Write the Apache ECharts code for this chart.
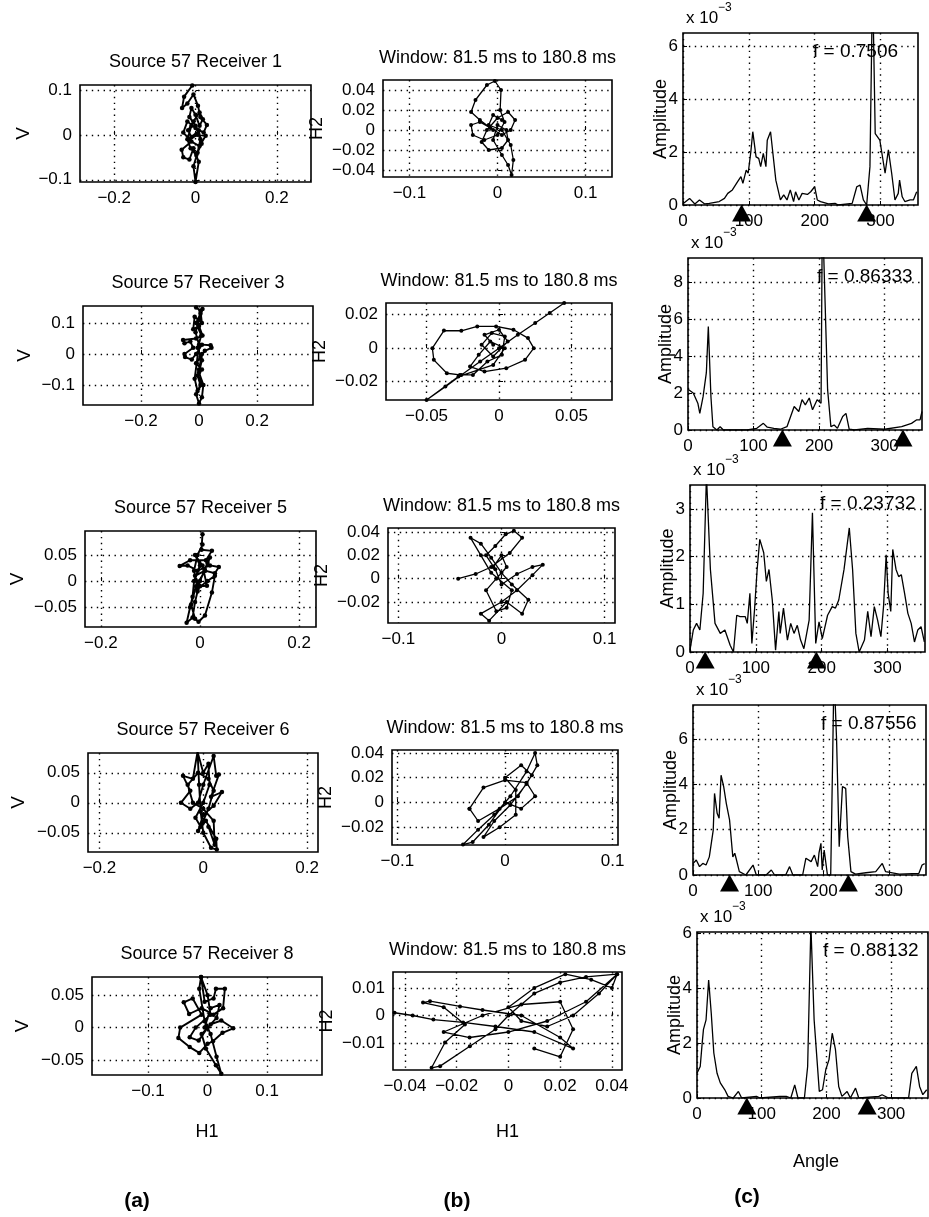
<!DOCTYPE html>
<html>
<head>
<meta charset="utf-8">
<script src="https://cdn.jsdelivr.net/npm/echarts@6/dist/echarts.min.js"></script>
<style>
html, body { margin: 0; padding: 0; background: #fff; }
#chart { width: 929px; height: 1217px; }
</style>
</head>
<body>
<div id="chart"></div>
<script>
// receiver number and picked frequency for each row
var receivers = [1, 3, 5, 6, 8];
var peakF = ['0.7506', '0.86333', '0.23732', '0.87556', '0.88132'];

// column (a): particle motion, V against H1
var vhPath1 = [[-0.008,0.11],[-0.028,0.085],[-0.033,0.06],[-0.02,0.07],[-0.005,0.09],[0.006,0.065],[0.012,0.04],[0.028,0.022],[0.02,0.005],[0.0,0.015],[-0.02,0.03],[-0.03,0.005],[-0.015,-0.01],[0.005,0.0],[0.025,-0.002],[0.01,-0.025],[-0.01,-0.015],[-0.034,-0.033],[-0.03,-0.05],[-0.015,-0.055],[-0.005,-0.03],[0.008,-0.06],[0.0,-0.105],[-0.005,-0.07],[0.005,-0.04],[0.012,-0.01],[0.0,0.02],[-0.015,0.04],[-0.01,0.06],[0.0,0.045],[0.01,0.02],[0.018,0.035],[0.01,0.05],[-0.005,0.03],[-0.018,0.01],[-0.01,-0.005],[0.008,0.01],[0.015,-0.02],[0.002,-0.045],[-0.012,-0.03],[-0.02,-0.01],[-0.01,0.02]];
var vhPath2 = [[-0.01,0.15],[0.005,0.14],[0.01,0.1],[-0.015,0.12],[-0.02,0.08],[0.0,0.09],[0.012,0.06],[-0.01,0.05],[-0.055,0.045],[-0.05,0.035],[-0.03,0.04],[-0.02,0.02],[-0.05,0.0],[-0.048,-0.01],[-0.025,-0.018],[-0.01,0.0],[0.01,0.03],[0.04,0.028],[0.043,0.02],[0.02,0.01],[0.005,-0.01],[-0.01,-0.03],[0.01,-0.05],[-0.005,-0.07],[0.005,-0.1],[-0.01,-0.13],[0.0,-0.16],[0.01,-0.14],[0.015,-0.1],[0.0,-0.06],[0.01,-0.02],[-0.005,0.02],[0.008,0.06],[-0.01,0.1],[0.005,0.13],[0.012,0.145],[0.0,0.11],[-0.012,0.07],[0.0,0.03],[-0.008,-0.03],[-0.015,-0.08],[-0.005,-0.12],[0.008,-0.1],[0.0,-0.05],[0.01,0.0]];
var vhPath3 = [[0.005,0.09],[0.003,0.06],[0.024,0.058],[0.012,0.04],[-0.02,0.04],[-0.041,0.029],[-0.025,0.03],[-0.005,0.02],[0.02,0.03],[0.038,0.027],[0.03,0.015],[0.01,0.02],[-0.01,0.01],[0.0,-0.01],[0.014,-0.009],[0.005,0.03],[-0.01,0.05],[0.0,0.03],[-0.012,0.0],[-0.015,-0.03],[-0.02,-0.05],[-0.027,-0.08],[-0.015,-0.07],[-0.01,-0.04],[-0.005,-0.02],[0.0,0.0],[0.015,0.035],[0.02,0.045],[0.01,0.02],[-0.008,-0.01],[-0.018,-0.045],[-0.01,-0.072],[-0.003,-0.078],[0.01,-0.066],[0.024,-0.022],[0.03,0.01],[0.015,0.0],[-0.005,-0.015],[-0.012,0.02],[-0.005,0.05],[0.005,0.07]];
var vhPath4 = [[-0.011,0.085],[-0.02,0.04],[-0.039,0.045],[-0.025,0.02],[-0.043,0.0],[-0.025,-0.01],[-0.01,0.0],[0.0,0.03],[0.02,0.078],[0.025,0.045],[0.03,0.047],[0.015,0.01],[0.036,0.018],[0.02,-0.005],[0.0,-0.02],[-0.01,-0.047],[0.005,-0.03],[0.025,-0.06],[0.026,-0.078],[0.015,-0.075],[0.0,-0.05],[-0.005,-0.015],[-0.008,0.03],[-0.011,0.085],[0.0,0.05],[0.01,0.065],[0.012,0.03],[0.0,0.0],[-0.015,-0.025],[-0.005,-0.04],[0.01,-0.01],[0.02,0.02],[0.01,0.04],[-0.01,0.05],[-0.03,0.03],[-0.02,0.0],[0.0,-0.01],[0.02,-0.03],[0.022,-0.07],[0.01,-0.04]];
var vhPath5 = [[-0.011,0.078],[-0.005,0.04],[0.01,0.045],[0.014,0.06],[0.029,0.06],[0.026,0.03],[0.01,0.02],[-0.01,0.03],[-0.031,0.021],[-0.04,0.039],[-0.025,0.045],[-0.01,0.02],[-0.046,0.0],[-0.049,-0.016],[-0.03,-0.03],[-0.014,-0.039],[0.0,-0.025],[0.009,-0.021],[0.025,-0.008],[0.043,-0.001],[0.023,0.011],[0.005,0.005],[-0.01,-0.01],[-0.003,-0.032],[0.014,-0.058],[0.023,-0.071],[0.015,-0.045],[0.005,-0.01],[-0.005,0.01],[-0.014,0.06],[-0.011,0.078],[0.0,0.05],[0.005,0.02],[-0.02,0.0],[-0.03,-0.015],[-0.015,-0.02],[0.0,0.0],[0.015,0.015],[0.02,0.035],[0.005,0.03],[-0.005,0.0]];

// column (b): particle motion, H2 against H1
var hhPath1 = [[-0.005,0.0],[-0.02,0.01],[-0.03,0.018],[-0.025,0.03],[-0.012,0.045],[-0.003,0.049],[0.004,0.04],[0.003,0.02],[0.008,0.008],[0.0,-0.005],[-0.015,-0.01],[-0.028,-0.005],[-0.03,0.005],[-0.02,0.008],[-0.008,0.002],[0.005,-0.005],[0.015,0.0],[0.02,0.01],[0.012,0.018],[0.0,0.012],[-0.012,0.0],[-0.018,-0.012],[-0.01,-0.02],[0.005,-0.018],[0.012,-0.01],[0.01,0.0],[0.0,0.005],[-0.005,-0.01],[0.005,-0.025],[0.012,-0.035],[0.016,-0.045],[0.018,-0.03],[0.015,-0.015],[0.005,0.0],[-0.01,0.005],[-0.005,0.015],[0.005,0.01]];
var hhPath2 = [[-0.004,0.002],[-0.01,0.008],[0.0,0.011],[0.006,0.004],[-0.004,-0.005],[-0.012,0.002],[-0.005,0.009],[0.004,0.007],[0.002,-0.004],[-0.008,-0.008],[-0.018,-0.016],[-0.027,-0.016],[-0.036,-0.015],[-0.045,-0.007],[-0.046,0.0],[-0.038,0.0105],[-0.026,0.0104],[-0.015,0.013],[-0.002,0.013],[0.01,0.011],[0.02,0.006],[0.024,0.0],[0.018,-0.007],[0.005,-0.012],[-0.01,-0.014],[-0.02,-0.011],[-0.014,-0.004],[-0.006,0.004],[0.004,0.0],[-0.004,-0.01],[-0.028,-0.017],[-0.05,-0.031],[-0.037,-0.023],[-0.026,-0.016],[-0.013,-0.008],[0.0,0.0],[0.013,0.008],[0.025,0.015],[0.035,0.021],[0.045,0.027]];
var hhPath3 = [[-0.042,0.0],[-0.025,0.004],[-0.01,0.01],[0.008,0.022],[0.02,0.035],[0.012,0.041],[0.004,0.038],[-0.006,0.028],[-0.015,0.02],[-0.006,0.008],[0.0,-0.005],[0.015,0.004],[0.03,0.01],[0.04,0.012],[0.03,0.003],[0.015,-0.01],[0.0,-0.02],[-0.02,-0.03],[-0.012,-0.036],[0.005,-0.02],[0.02,-0.03],[0.026,-0.018],[0.01,-0.005],[0.0,0.005],[-0.01,0.018],[-0.02,0.03],[-0.03,0.035],[-0.02,0.02],[-0.01,0.005],[0.01,-0.01],[0.005,-0.025],[-0.005,-0.028],[-0.015,-0.01],[-0.005,0.0],[0.005,0.01],[0.0,0.02],[-0.008,0.01]];
var hhPath4 = [[-0.033,-0.005],[-0.02,0.012],[0.0,0.018],[0.02,0.016],[0.028,0.005],[0.015,-0.005],[0.0,0.0],[-0.015,-0.018],[-0.03,-0.032],[-0.039,-0.034],[-0.025,-0.022],[-0.01,-0.01],[0.005,0.005],[0.02,0.025],[0.028,0.04],[0.03,0.03],[0.02,0.015],[0.005,-0.002],[-0.01,-0.015],[-0.02,-0.028],[-0.005,-0.02],[0.01,-0.01],[0.01,0.01],[0.0,0.02],[0.015,0.03],[0.025,0.022],[0.012,0.005],[-0.005,-0.005],[-0.025,-0.015],[-0.033,-0.005]];
var hhPath5 = [[-0.044,0.001],[-0.037,0.0],[-0.029,-0.0015],[-0.0175,-0.0025],[-0.005,-0.004],[0.01,-0.006],[0.025,-0.012],[0.02,-0.008],[0.005,0.0],[-0.01,0.002],[-0.0187,0.0033],[-0.0303,0.0052],[-0.033,0.0047],[-0.025,0.003],[-0.0168,-0.0033],[-0.0245,-0.0098],[-0.0297,-0.019],[-0.0264,-0.0184],[-0.0149,-0.0112],[-0.005,-0.005],[0.0,0.0],[0.01,0.008],[0.02,0.012],[0.03,0.014],[0.042,0.015],[0.035,0.008],[0.025,0.0],[0.015,-0.004],[0.005,-0.002],[0.0,0.003],[0.01,0.01],[0.022,0.015],[0.032,0.013],[0.04,0.01],[0.042,0.015],[0.03,0.005],[0.015,-0.002],[0.0,-0.006],[-0.015,-0.008],[-0.025,-0.006],[-0.01,0.0],[0.005,0.004],[0.02,0.005],[0.025,-0.005],[0.02,-0.015],[0.01,-0.012]];

// column (c): amplitude (x 10^-3) against angle in degrees
var amp1 = [[0,0.05],[10,0.25],[18,0.04],[25,0.19],[33,0.04],[40,0.06],[55,0.13],[63,0.25],[68,0.44],[75,0.57],[83,0.88],[88,1.07],[91,0.82],[96,1.32],[99,1.2],[103,2.0],[106,2.77],[111,1.82],[115,1.76],[118,1.45],[122,1.95],[126,1.45],[128,2.45],[133,2.77],[136,2.7],[141,0.94],[148,0.19],[153,0.38],[158,0.19],[163,0.57],[168,0.13],[171,0.5],[176,0.19],[181,0.44],[189,0.4],[194,0.5],[200,0.69],[204,0.19],[209,0.13],[221,0.04],[231,0.06],[236,0],[257,0.06],[264,0.69],[269,0.75],[274,0.19],[279,0],[284,1.45],[288,8.5],[292,2.7],[299,2.45],[307,1.2],[312,2.08],[317,1.2],[322,0.19],[327,0.44],[329,0.94],[333,0.31],[337,0.13],[345,0.19],[350,0.19],[355,0.5]];
var amp2 = [[0,2.2],[8,2.0],[15,1.45],[18,0.9],[23,1.8],[28,3.1],[31,5.6],[35,1.8],[38,0.18],[44,0],[49,0.18],[54,0],[90,0],[105,0.09],[115,0.36],[121,0.15],[131,0.09],[141,0.04],[151,0.18],[162,1.27],[169,1.0],[174,1.64],[179,1.36],[185,1.73],[190,1.09],[197,1.64],[203,1.45],[205,12],[213,2.18],[218,0.18],[223,0.27],[228,0.09],[236,0.73],[241,0.9],[246,0.04],[254,0],[274,0.09],[300,0.04],[326,0.18],[341,0.36],[349,0.55],[354,0.55],[357,1.0]];
var amp3 = [[0,0.04],[5,0.46],[10,0.6],[15,0.46],[20,1.23],[25,3.7],[31,1.73],[38,0.6],[46,0.39],[53,0.46],[61,0.14],[66,0],[71,0.77],[76,0.74],[84,0.74],[87,0.6],[91,1.23],[94,0.18],[98,0.88],[102,1.73],[106,2.36],[112,2.08],[116,1.48],[120,1.73],[125,1.09],[130,0.04],[135,0.85],[137,0.39],[142,0.92],[148,0.25],[153,0.6],[158,0.39],[163,0.56],[168,0.25],[173,0.07],[181,0.67],[186,2.92],[191,0.18],[196,0.63],[201,0.28],[209,0.77],[216,0.95],[221,0.92],[226,1.09],[234,1.73],[242,2.6],[247,1.73],[252,0.39],[257,0],[265,0.25],[270,0.85],[275,0.32],[280,0.95],[285,0.67],[290,0.32],[294,0.95],[298,2.04],[301,1.23],[305,0.85],[308,2.15],[313,1.73],[317,1.58],[321,1.62],[326,1.23],[331,0.81],[336,0.6],[341,0.21],[346,0.46],[351,0.53],[356,0.21]];
var amp4 = [[0,0.5],[5,0.66],[10,0.37],[15,0.51],[20,0.44],[25,0.8],[31,1.98],[33,3.6],[37,2.72],[40,2.5],[43,4.4],[47,3.9],[51,3.16],[56,2.43],[61,0.8],[64,0.96],[66,0.74],[71,0.15],[81,0],[92,0.44],[97,0],[112,0],[120,0.22],[125,0],[142,0],[148,0.37],[153,0],[168,0],[173,0.74],[181,0.59],[186,0.88],[191,0.37],[193,0.96],[196,1.4],[198,0.22],[201,1.1],[206,0],[211,0],[214,5.2],[216,9],[220,5.96],[224,1.25],[226,1.25],[229,3.9],[234,3.82],[237,1.7],[242,0.15],[249,0.04],[265,0.1],[280,0.15],[290,0.51],[295,0.15],[316,0.04],[346,0.07],[351,0.44],[355,0.5]];
var amp5 = [[0,0.9],[5,1.15],[8,2.0],[10,2.5],[14,2.85],[18,4.3],[22,3.1],[26,1.64],[31,0.9],[36,0.55],[43,0.3],[48,0.06],[56,0],[64,0.24],[69,0],[92,0.06],[97,0],[128,0.06],[138,0.06],[145,0],[151,0.48],[156,0],[166,0],[171,1.15],[176,6.3],[181,2.85],[189,0.24],[194,0.3],[199,1.03],[204,1.4],[209,2.36],[214,1.76],[219,0.42],[224,0.06],[232,0.24],[237,0],[245,0.36],[250,0],[281,0.06],[286,0.12],[296,0],[327,0],[332,0.9],[339,1.15],[344,0.42],[349,0.12],[355,0.3]];

// angles marked with triangles under each spectrum
var marks1 = [89, 279];
var marks2 = [144, 328];
var marks3 = [23, 192];
var marks4 = [56, 238];
var marks5 = [77, 263];

// axis limits and tick values
var aXRange = [[-0.284, 0.284], [-0.4, 0.393], [-0.232, 0.234], [-0.222, 0.221], [-0.194, 0.192]];
var aYRange = [[-0.105, 0.111], [-0.165, 0.155], [-0.088, 0.096], [-0.082, 0.083], [-0.073, 0.078]];
var aXTicks = [[-0.2, 0, 0.2], [-0.2, 0, 0.2], [-0.2, 0, 0.2], [-0.2, 0, 0.2], [-0.1, 0, 0.1]];
var aYTicks = [[-0.1, 0, 0.1], [-0.1, 0, 0.1], [-0.05, 0, 0.05], [-0.05, 0, 0.05], [-0.05, 0, 0.05]];
var bXRange = [[-0.13, 0.13], [-0.078, 0.078], [-0.11, 0.11], [-0.105, 0.105], [-0.0446, 0.0439]];
var bYRange = [[-0.047, 0.05], [-0.031, 0.027], [-0.038, 0.0434], [-0.0344, 0.0424], [-0.0198, 0.0158]];
var bXTicks = [[-0.1, 0, 0.1], [-0.05, 0, 0.05], [-0.1, 0, 0.1], [-0.1, 0, 0.1], [-0.04, -0.02, 0, 0.02, 0.04]];
var bYTicks = [[-0.04, -0.02, 0, 0.02, 0.04], [-0.02, 0, 0.02], [-0.02, 0, 0.02, 0.04], [-0.02, 0, 0.02, 0.04], [-0.01, 0, 0.01]];
var cXMax = 357;
var cYMax = [6.5, 9.3, 3.5, 7.5, 6.05];
var cXTicks = [0, 100, 200, 300];
var cYTicks = [[0, 2, 4, 6], [0, 2, 4, 6, 8], [0, 1, 2, 3], [0, 2, 4, 6], [0, 2, 4, 6]];

var vhPaths = [vhPath1, vhPath2, vhPath3, vhPath4, vhPath5];
var hhPaths = [hhPath1, hhPath2, hhPath3, hhPath4, hhPath5];
var amps = [amp1, amp2, amp3, amp4, amp5];
var marks = [marks1, marks2, marks3, marks4, marks5];

// plot boxes in px: left, top, width, height (the scan is a little skewed)
var boxA = [[80, 85, 231, 97], [83, 306, 230, 99], [85, 531, 231, 96], [88, 753, 230, 99], [92, 977, 230, 98]];
var boxB = [[383, 80, 229, 97], [386, 303, 226, 97], [388, 528, 227, 95], [392, 750, 226, 95], [393, 972, 229, 98]];
var boxC = [[683, 33, 235, 172], [688, 258, 234, 172], [690, 485, 235, 167], [693, 705, 233, 170], [697, 932, 231, 166]];
var vLabelX = [24, 25, 18, 19, 23];

var FONT = '"Liberation Sans", Arial, Helvetica, sans-serif';

function minusFmt(v) {
	return String(v).replace('-', '\u2212');
}

function makeGrid(b) {
	return {
		left: b[0], top: b[1], width: b[2], height: b[3],
		show: true, borderColor: '#000', borderWidth: 1.6, backgroundColor: '#fff'
	};
}

function makeAxis(gi, min, max, ticks, labelMargin) {
	return {
		type: 'value', gridIndex: gi, min: min, max: max, scale: true,
		axisLine: { show: false },
		axisTick: { show: true, inside: true, length: 4, customValues: ticks, lineStyle: { color: '#000', width: 1 } },
		axisLabel: { customValues: ticks, formatter: minusFmt, color: '#000', fontSize: 17, fontFamily: FONT, margin: labelMargin || 8 },
		splitLine: { show: true, lineStyle: { color: '#000', type: [1.4, 4.5], width: 1.4 } }
	};
}

function label(text, x, y, size, opts) {
	opts = opts || {};
	var align = opts.align || 'center';
	return {
		type: 'text', x: x, y: y, rotation: opts.rotate ? Math.PI / 2 : 0, silent: true, z: 100,
		style: {
			text: text, fill: '#000',
			font: (opts.bold ? 'bold ' : '') + size + 'px ' + FONT,
			align: align, verticalAlign: 'middle',
			textAlign: align, textVerticalAlign: 'middle'
		}
	};
}

var grids = [], xAxes = [], yAxes = [], series = [], texts = [];

for (var r = 0; r < 5; r++) {
	var ga = r * 3, gb = r * 3 + 1, gc = r * 3 + 2;
	var a = boxA[r], b = boxB[r], c = boxC[r];

	grids.push(makeGrid(a), makeGrid(b), makeGrid(c));

	xAxes.push(makeAxis(ga, aXRange[r][0], aXRange[r][1], aXTicks[r]));
	yAxes.push(makeAxis(ga, aYRange[r][0], aYRange[r][1], aYTicks[r]));
	xAxes.push(makeAxis(gb, bXRange[r][0], bXRange[r][1], bXTicks[r]));
	yAxes.push(makeAxis(gb, bYRange[r][0], bYRange[r][1], bYTicks[r]));
	xAxes.push(makeAxis(gc, 0, cXMax, cXTicks));
	yAxes.push(makeAxis(gc, 0, cYMax[r], cYTicks[r], 5));

	series.push({
		type: 'line', xAxisIndex: ga, yAxisIndex: ga, data: vhPaths[r],
		symbol: 'circle', symbolSize: 4.5, showSymbol: true, showAllSymbol: true,
		lineStyle: { color: '#000', width: 1.9 }, itemStyle: { color: '#000' }, silent: true
	});
	series.push({
		type: 'line', xAxisIndex: gb, yAxisIndex: gb, data: hhPaths[r],
		symbol: 'circle', symbolSize: 4, showSymbol: true, showAllSymbol: true,
		lineStyle: { color: '#000', width: 1.3 }, itemStyle: { color: '#000' }, silent: true
	});
	series.push({
		type: 'line', xAxisIndex: gc, yAxisIndex: gc, data: amps[r], symbol: 'none',
		lineStyle: { color: '#000', width: 1.3 }, silent: true
	});
	series.push({
		type: 'scatter', xAxisIndex: gc, yAxisIndex: gc, clip: false, z: 10,
		data: marks[r].map(function (m) { return [m, 0]; }),
		symbol: 'triangle', symbolSize: [19, 17], symbolOffset: [0, 8],
		itemStyle: { color: '#000', opacity: 1 }, silent: true
	});

	// titles and axis names
	texts.push(label('Source 57 Receiver ' + receivers[r], a[0] + a[2] / 2, a[1] - 23, 18));
	texts.push(label('Window: 81.5 ms to 180.8 ms', b[0] + b[2] / 2, b[1] - 22, 18));
	texts.push(label('V', vLabelX[r], a[1] + a[3] / 2, 19, { rotate: true }));
	texts.push(label('H2', b[0] - 66, b[1] + b[3] / 2, 18, { rotate: true }));
	texts.push(label('Amplitude', c[0] - 22, c[1] + c[3] / 2, 18, { rotate: true }));
	texts.push(label('x 10', c[0] + 3, c[1] - 15, 17, { align: 'left' }));
	texts.push(label('\u22123', c[0] + 35, c[1] - 25, 12, { align: 'left' }));
	texts.push(label('f = ' + peakF[r], c[0] + c[2] - 105, c[1] + 19, 19, { align: 'left' }));
}

texts.push(label('H1', boxA[4][0] + boxA[4][2] / 2, 1132, 18));
texts.push(label('H1', boxB[4][0] + boxB[4][2] / 2, 1132, 18));
texts.push(label('Angle', 816, 1162, 18));
texts.push(label('(a)', 137, 1201, 21, { bold: true }));
texts.push(label('(b)', 457, 1201, 21, { bold: true }));
texts.push(label('(c)', 747, 1197, 21, { bold: true }));

var chart = echarts.init(document.getElementById('chart'), null, { renderer: 'canvas' });
chart.setOption({
	backgroundColor: '#fff',
	animation: false,
	grid: grids,
	xAxis: xAxes,
	yAxis: yAxes,
	series: series,
	graphic: texts
});
</script>
</body>
</html>
